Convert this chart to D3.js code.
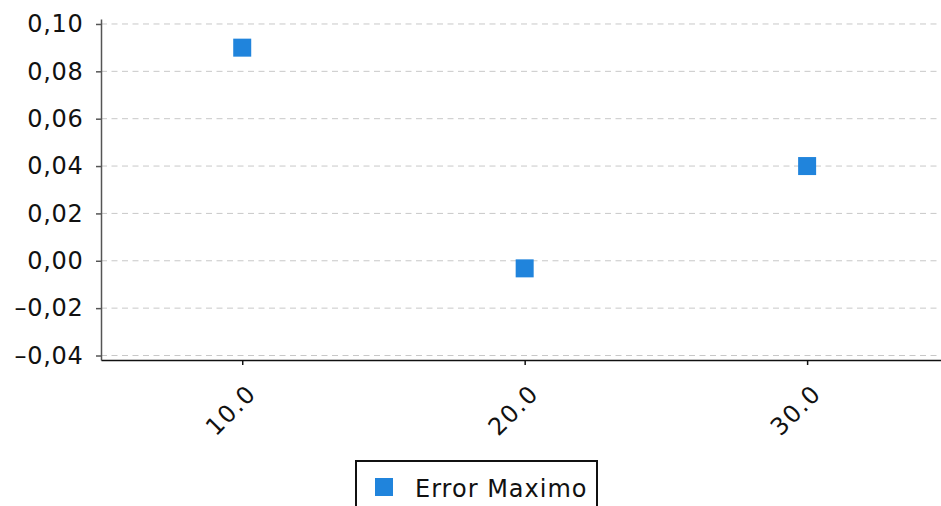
<!DOCTYPE html>
<html>
<head>
<meta charset="utf-8">
<script src="https://cdn.jsdelivr.net/npm/d3@7"></script>
<style>
  body { margin: 0; background: #fff; }
  svg { display: block; font-family: "DejaVu Sans", sans-serif; }
</style>
</head>
<body>
<svg id="chart" width="941" height="506"></svg>
<script>
// data
const seriesName = "Error Maximo";
const xValues = [10, 20, 30];
const yValues = [0.09, -0.0032, 0.04];
const xTicks = [10, 20, 30];
const yTicks = [-0.04, -0.02, 0, 0.02, 0.04, 0.06, 0.08, 0.10];

const width = 941, height = 506;
const margin = { top: 19, right: 0, bottom: 146, left: 101 };

const svg = d3.select("#chart");

const x = d3.scaleLinear()
    .domain([5, 34.74])
    .range([margin.left, width - margin.right]);

const y = d3.scaleLinear()
    .domain([-0.0419, 0.1021])
    .range([height - margin.bottom, margin.top]);

// comma decimals, short dash for negatives
const fmt = v => d3.format(".2f")(v).replace(".", ",").replace("-", "\u2013").replace("\u2212", "\u2013");

// grid lines
svg.append("g")
    .selectAll("line")
    .data(yTicks)
    .enter()
    .append("line")
    .attr("x1", margin.left)
    .attr("x2", width)
    .attr("y1", d => y(d))
    .attr("y2", d => y(d))
    .attr("stroke", "#c8c8c8")
    .attr("stroke-width", 1)
    .attr("stroke-dasharray", "6,4.5");

// y axis
const yAxis = svg.append("g")
    .attr("transform", `translate(${margin.left},0)`)
    .call(d3.axisLeft(y).tickValues(yTicks).tickFormat(fmt).tickSize(5).tickSizeOuter(0).tickPadding(12.5));
yAxis.select(".domain").attr("stroke", "#555").attr("stroke-width", 1.5);
yAxis.selectAll(".tick line").attr("stroke", "#555").attr("stroke-width", 1.5);
yAxis.selectAll("text")
    .attr("font-size", 24)
    .attr("letter-spacing", 0.7)
    .attr("fill", "#111")
    .attr("font-family", "DejaVu Sans");

// x axis
const xAxis = svg.append("g")
    .attr("transform", `translate(0,${height - margin.bottom})`)
    .call(d3.axisBottom(x).tickValues(xTicks).tickFormat(d3.format(".1f")).tickSize(5).tickSizeOuter(0));
xAxis.select(".domain").attr("stroke", "#111").attr("stroke-width", 1.5);
xAxis.selectAll(".tick line").attr("stroke", "#111").attr("stroke-width", 1.5);
xAxis.selectAll("text")
    .attr("font-size", 24)
    .attr("letter-spacing", 1.5)
    .attr("fill", "#111")
    .attr("font-family", "DejaVu Sans")
    .attr("text-anchor", "end")
    .attr("dy", null)
    .attr("y", 0)
    .attr("transform", "translate(15,35) rotate(-45)");

// points
const size = 18;
svg.append("g")
    .selectAll("rect")
    .data(xValues.map((d, i) => ({ x: d, y: yValues[i] })))
    .enter()
    .append("rect")
    .attr("x", d => x(d.x) - size / 2)
    .attr("y", d => y(d.y) - size / 2)
    .attr("width", size)
    .attr("height", size)
    .attr("fill", "#2084dc");

// legend
const legend = svg.append("g").attr("transform", "translate(356,461)");
legend.append("rect")
    .attr("width", 241)
    .attr("height", 60)
    .attr("fill", "#fff")
    .attr("stroke", "#111")
    .attr("stroke-width", 2);
legend.append("rect")
    .attr("x", 19)
    .attr("y", 17)
    .attr("width", 18)
    .attr("height", 18)
    .attr("fill", "#2084dc");
legend.append("text")
    .attr("x", 59)
    .attr("y", 36)
    .attr("font-size", 24)
    .attr("letter-spacing", 1)
    .attr("fill", "#111")
    .text(seriesName);
</script>
</body>
</html>
